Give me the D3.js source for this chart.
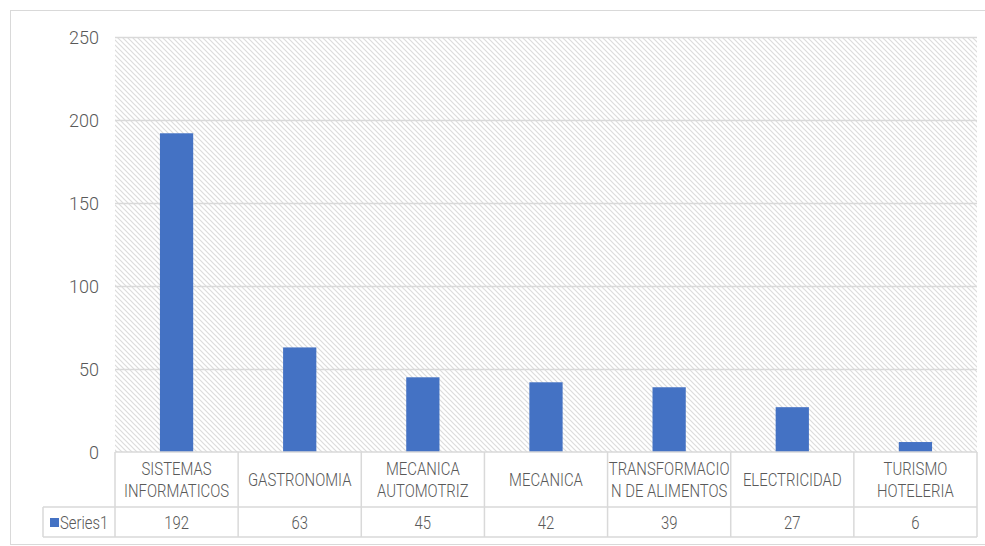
<!DOCTYPE html>
<html>
<head>
<meta charset="utf-8">
<script src="https://cdn.jsdelivr.net/npm/d3@7"></script>
<style>
  html, body { margin: 0; padding: 0; background: #fff; }
  svg { display: block; }
  text { font-family: Roboto, "Liberation Sans", sans-serif; fill: #595959; font-weight: 300; }
</style>
</head>
<body>
<svg id="chart" width="985" height="546"></svg>
<script>
// ---- data ----
const categories = ["SISTEMAS INFORMATICOS", "GASTRONOMIA", "MECANICA AUTOMOTRIZ", "MECANICA", "TRANSFORMACION DE ALIMENTOS", "ELECTRICIDAD", "TURISMO HOTELERIA"];
const categoryLines = [["SISTEMAS", "INFORMATICOS"], ["GASTRONOMIA"], ["MECANICA", "AUTOMOTRIZ"], ["MECANICA"], ["TRANSFORMACIO", "N DE ALIMENTOS"], ["ELECTRICIDAD"], ["TURISMO", "HOTELERIA"]];
const values = [192, 63, 45, 42, 39, 27, 6];
const yTicks = [0, 50, 100, 150, 200, 250];
const seriesName = "Series1";

// ---- layout ----
const W = 985, H = 546;
const plot = { left: 115, right: 977, top: 37, bottom: 452 };
const headerBottom = 507, tableBottom = 537, legendLeft = 43;
const blue = "#4472C4", grid = "#d9d9d9", border = "#d9d9d9";
const labelScaleX = 0.85;

const svg = d3.select("#chart");

// hatch pattern
const defs = svg.append("defs");
const pat = defs.append("pattern")
  .attr("id", "hatch").attr("patternUnits", "userSpaceOnUse")
  .attr("width", 5).attr("height", 5);
pat.append("rect").attr("width", 5).attr("height", 5).attr("fill", "#fff");
pat.append("path")
  .attr("d", "M-1,-1 L6,6 M-1,4 L1,6 M4,-1 L6,1")
  .attr("stroke", "#dcdcdc").attr("stroke-width", 1.2);

// outer chart border
svg.append("rect").attr("x", 10.5).attr("y", 10.5).attr("width", 990).attr("height", 534)
  .attr("fill", "#fff").attr("stroke", "#d9d9d9");

const x = d3.scaleBand().domain(categories).range([plot.left, plot.right]).padding(0);
const y = d3.scaleLinear().domain([0, 250]).range([plot.bottom, plot.top]);

// plot area hatch
svg.append("rect")
  .attr("x", plot.left).attr("y", plot.top)
  .attr("width", plot.right - plot.left).attr("height", plot.bottom - plot.top)
  .attr("fill", "url(#hatch)");

// gridlines
svg.append("g").selectAll("line").data(yTicks.filter(t => t > 0)).join("line")
  .attr("x1", plot.left).attr("x2", plot.right)
  .attr("y1", d => Math.round(y(d)) + 0.5).attr("y2", d => Math.round(y(d)) + 0.5)
  .attr("stroke", grid).attr("stroke-width", 1.5);

// y axis labels via d3 axis
const yAxis = svg.append("g").attr("transform", `translate(${plot.left - 16},0)`)
  .call(d3.axisLeft(y).tickValues(yTicks).tickSize(0).tickPadding(0));
yAxis.select(".domain").remove();
yAxis.selectAll("text").attr("font-size", 18).attr("fill", "#595959")
  .attr("font-family", "Roboto, sans-serif").attr("font-weight", 300).attr("dy", "0.36em");

// bars
const barW = x.bandwidth() * 0.27;
svg.append("g").selectAll("rect").data(values).join("rect")
  .attr("x", (d, i) => x(categories[i]) + (x.bandwidth() - barW) / 2)
  .attr("y", d => y(d))
  .attr("width", barW)
  .attr("height", d => y(0) - y(d))
  .attr("fill", blue);

// data table lines
const tbl = svg.append("g").attr("stroke", border).attr("stroke-width", 1.5).attr("fill", "none");
tbl.append("line").attr("x1", plot.left).attr("x2", plot.right).attr("y1", plot.bottom).attr("y2", plot.bottom);
tbl.append("line").attr("x1", legendLeft).attr("x2", plot.right).attr("y1", headerBottom).attr("y2", headerBottom);
tbl.append("line").attr("x1", legendLeft).attr("x2", plot.right).attr("y1", tableBottom).attr("y2", tableBottom);
tbl.append("line").attr("x1", legendLeft).attr("x2", legendLeft).attr("y1", headerBottom).attr("y2", tableBottom);
const colEdges = categories.map(c => x(c)).concat([plot.right]);
tbl.selectAll(".v").data(colEdges).join("line")
  .attr("x1", d => d).attr("x2", d => d)
  .attr("y1", plot.bottom).attr("y2", tableBottom);

// category labels
const headMid = (plot.bottom + headerBottom) / 2;
const lineH = 22;
const catG = svg.append("g").selectAll("g").data(categoryLines).join("g")
  .attr("transform", (d, i) => `translate(${x(categories[i]) + x.bandwidth() / 2},0)`);
catG.each(function(lines) {
  const g = d3.select(this);
  const n = lines.length;
  lines.forEach((ln, j) => {
    const base = headMid + 6 + (j - (n - 1) / 2) * lineH;
    g.append("text")
      .attr("transform", `translate(0,${base}) scale(${labelScaleX},1)`)
      .attr("text-anchor", "middle").attr("font-size", 17.5)
      .text(ln);
  });
});

// values row
svg.append("g").selectAll("text").data(values).join("text")
  .attr("transform", (d, i) => `translate(${x(categories[i]) + x.bandwidth() / 2},${(headerBottom + tableBottom) / 2 + 7}) scale(${labelScaleX},1)`)
  .attr("text-anchor", "middle").attr("font-size", 17.5)
  .text(d => d);

// legend key
svg.append("rect").attr("x", 50).attr("y", 518).attr("width", 9).attr("height", 9).attr("fill", blue);
svg.append("text")
  .attr("transform", `translate(60,${(headerBottom + tableBottom) / 2 + 6.5}) scale(${labelScaleX},1)`)
  .attr("font-size", 17.5).text(seriesName);
</script>
</body>
</html>
